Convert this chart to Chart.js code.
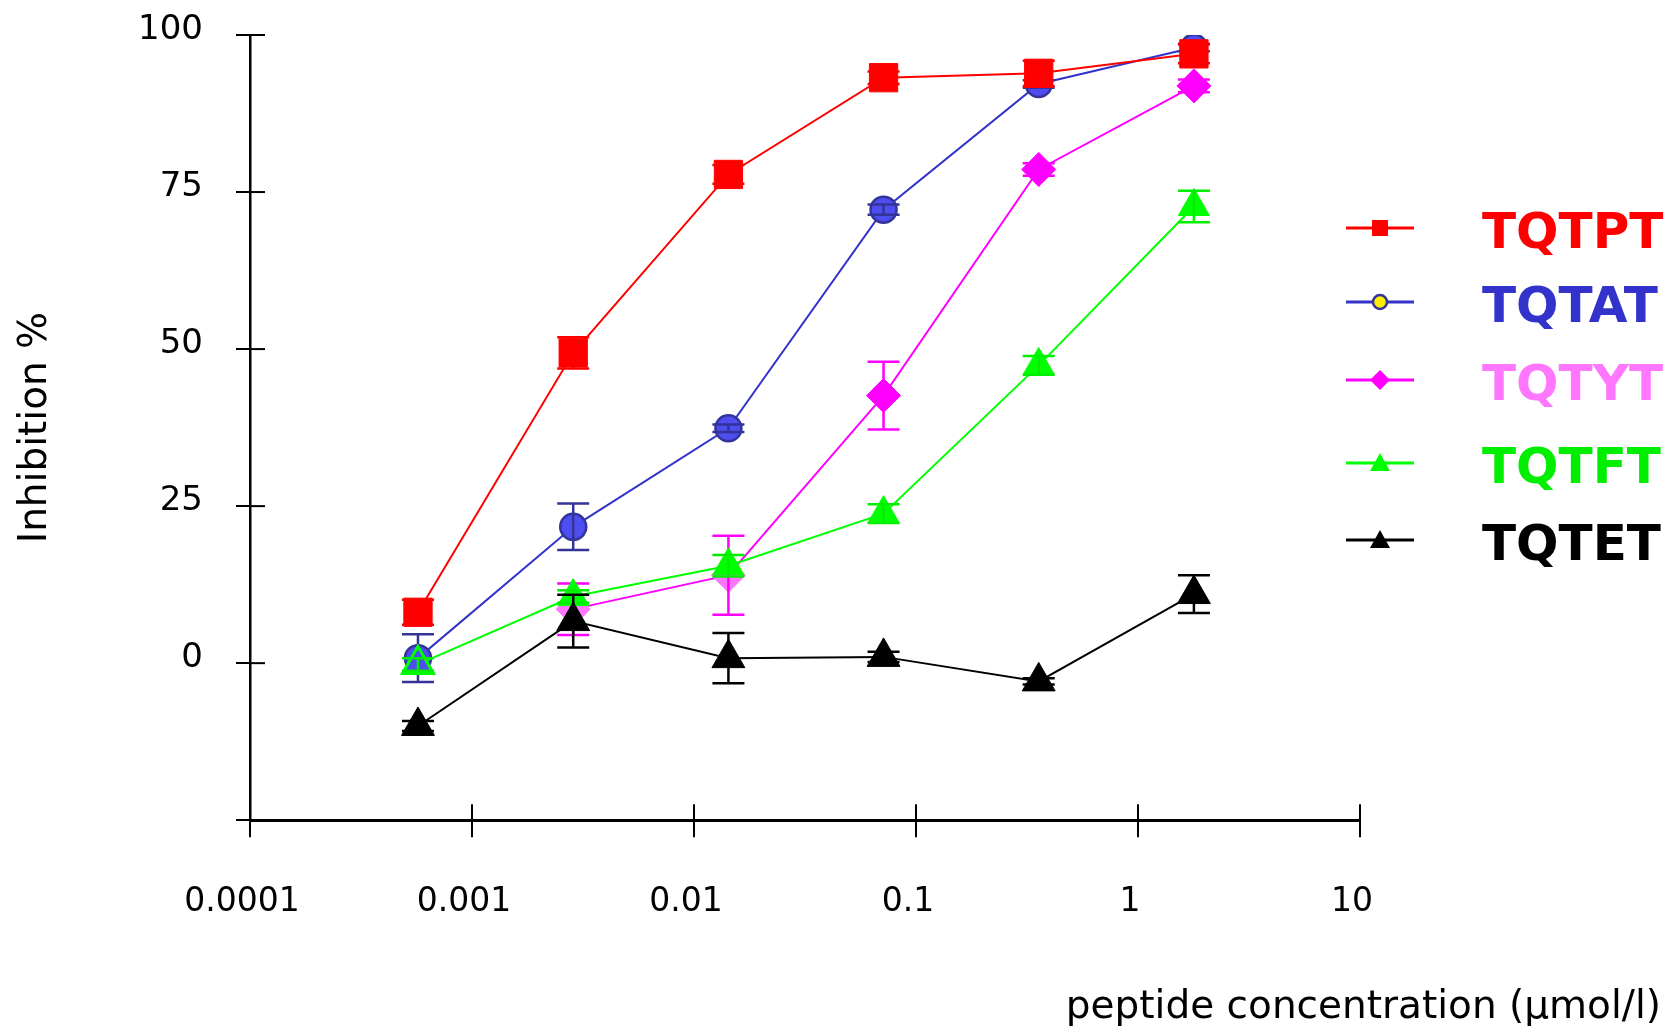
<!DOCTYPE html>
<html>
<head>
<meta charset="utf-8">
<script src="https://cdn.jsdelivr.net/npm/chart.js@4.4.1/dist/chart.umd.min.js"></script>
<style>
  body { margin: 0; background: #fff; }
  #wrap { position: relative; width: 1678px; height: 1035px; }
  #myChart { position: absolute; left: 0; top: 0; }
  .leg { position: absolute; left: 1346px; height: 60px; display: flex; align-items: center; transform: translateY(-50%); }
  .leg svg { width: 68px; height: 24px; }
  .leg span { position: absolute; left: 136px; top: 8px; font-family: "DejaVu Sans", sans-serif; font-weight: bold; font-size: 50px; line-height: 50px; white-space: nowrap; }
</style>
</head>
<body>
<div id="wrap">
  <canvas id="myChart" width="1678" height="1035"></canvas>
  <div id="legend"></div>
</div>
<script>
// peptide concentration (umol/l), 1:5 dilution series
var concentrations = [0.000571, 0.002857, 0.01429, 0.07143, 0.3571, 1.786];

var seriesNames = ['TQTPT', 'TQTAT', 'TQTYT', 'TQTFT', 'TQTET'];

// inhibition %
var tqtpt = [8.1, 49.4, 77.8, 93.2, 93.9, 97.0];
var tqtat = [0.8, 21.7, 37.4, 72.2, 92.2, 98.0];
var tqtyt = [null, 8.6, 14.0, 42.6, 78.6, 91.9];
var tqtft = [-0.2, 10.6, 15.5, 23.8, 47.4, 72.7];
var tqtet = [-10.0, 6.7, 0.8, 1.0, -2.9, 11.0];

// error bars (+/-)
var tqtptErr = [2.0, 2.5, 1.5, 1.0, 2.0, 1.5];
var tqtatErr = [3.8, 3.7, 0.6, 0.8, 0.6, 0.6];
var tqtytErr = [null, 4.1, 6.3, 5.4, 1.0, 1.0];
var tqtftErr = [1.0, 1.0, 1.7, 1.5, 1.5, 2.5];
var tqtetErr = [0.8, 4.2, 4.0, 0.8, 0.5, 3.0];

var xTickValues = [0.0001, 0.001, 0.01, 0.1, 1, 10];
var xTickLabels = ['0.0001', '0.001', '0.01', '0.1', '1', '10'];
var yTickValues = [-25, 0, 25, 50, 75, 100];

function pts(vals) {
    return concentrations.map(function (c, i) { return { x: c, y: vals[i] }; });
}

// error bars, drawn right after each dataset
var errorBars = {
    id: 'errorBars',
    afterDatasetDraw: function (chart, args) {
        var ds = chart.data.datasets[args.index];
        if (!ds.errors) return;
        var ys = chart.scales.y, ctx = chart.ctx;
        ctx.save();
        ctx.strokeStyle = ds.errorColor;
        ctx.lineWidth = 2.5;
        args.meta.data.forEach(function (p, i) {
            var v = ds.data[i].y, e = ds.errors[i];
            if (v === null || e === null) return;
            var top = ys.getPixelForValue(v + e), bot = ys.getPixelForValue(v - e);
            ctx.beginPath();
            ctx.moveTo(p.x, top); ctx.lineTo(p.x, bot);
            ctx.moveTo(p.x - 16, top); ctx.lineTo(p.x + 16, top);
            ctx.moveTo(p.x - 16, bot); ctx.lineTo(p.x + 16, bot);
            ctx.stroke();
        });
        ctx.restore();
    }
};

// ticks that cross the axis line
var innerTicks = {
    id: 'innerTicks',
    afterDraw: function (chart) {
        var ctx = chart.ctx, xs = chart.scales.x, ys = chart.scales.y;
        ctx.save();
        ctx.strokeStyle = '#000';
        ctx.lineWidth = 2;
        ys.ticks.forEach(function (t) {
            var py = ys.getPixelForValue(t.value);
            ctx.beginPath(); ctx.moveTo(xs.left, py); ctx.lineTo(xs.left + 15, py); ctx.stroke();
        });
        xs.ticks.forEach(function (t) {
            var px = xs.getPixelForValue(t.value);
            ctx.beginPath(); ctx.moveTo(px, ys.bottom); ctx.lineTo(px, ys.bottom - 16); ctx.stroke();
        });
        ctx.restore();
    }
};

var ctx = document.getElementById('myChart').getContext('2d');
var chart = new Chart(ctx, {
    type: 'line',
    data: {
        datasets: [{
            label: seriesNames[0],
            data: pts(tqtpt),
            errors: tqtptErr,
            errorColor: '#ff0000',
            borderColor: '#ff0000',
            backgroundColor: '#ff0000',
            pointStyle: 'rect',
            pointRadius: 20,
            pointBorderWidth: 1,
            order: 3
        }, {
            label: seriesNames[1],
            data: pts(tqtat),
            errors: tqtatErr,
            errorColor: '#333399',
            borderColor: '#3333cc',
            backgroundColor: '#4d4df0',
            pointBorderColor: '#333399',
            pointStyle: 'circle',
            pointRadius: 13,
            pointBorderWidth: 2.5,
            order: 4
        }, {
            label: seriesNames[2],
            data: pts(tqtyt),
            errors: tqtytErr,
            errorColor: '#ff00ff',
            borderColor: '#ff00ff',
            backgroundColor: function (c) { return c.dataIndex === 1 || c.dataIndex === 2 ? '#ff77ff' : '#ff00ff'; },
            pointBorderColor: function (c) { return c.dataIndex === 1 || c.dataIndex === 2 ? '#ff77ff' : '#ff00ff'; },
            pointStyle: 'rectRot',
            pointRadius: 17,
            pointBorderWidth: 1,
            order: 2
        }, {
            label: seriesNames[3],
            data: pts(tqtft),
            errors: tqtftErr,
            errorColor: '#00ee00',
            borderColor: '#00ff00',
            backgroundColor: function (c) { return c.dataIndex === 0 ? '#4d4df0' : '#00ff00'; },
            pointBorderColor: '#00ff00',
            pointStyle: 'triangle',
            pointRadius: 18,
            pointBorderWidth: function (c) { return c.dataIndex === 0 ? 3 : 1; },
            order: 1
        }, {
            label: seriesNames[4],
            data: pts(tqtet),
            errors: tqtetErr,
            errorColor: '#000000',
            borderColor: '#000000',
            backgroundColor: '#000000',
            pointStyle: 'triangle',
            pointRadius: 19,
            pointBorderWidth: 1,
            order: 0
        }]
    },
    options: {
        responsive: false,
        animation: false,
        elements: {
            line: { tension: 0, borderWidth: 2 }
        },
        layout: { padding: { top: 35, right: 17, left: 0, bottom: 0 } },
        plugins: {
            legend: { display: false },
            tooltip: { enabled: false },
            title: {
                display: true,
                position: 'bottom',
                align: 'end',
                text: 'peptide concentration (\u03bcmol/l)',
                color: '#000',
                font: { family: 'DejaVu Sans', size: 39, weight: 'normal' },
                padding: { top: 0, bottom: 4 }
            }
        },
        scales: {
            x: {
                type: 'logarithmic',
                min: 0.0001,
                max: 10,
                afterFit: function (s) { s.height = 164; },
                afterBuildTicks: function (s) {
                    s.ticks = xTickValues.map(function (v) { return { value: v }; });
                },
                ticks: {
                    color: '#000',
                    font: { family: 'DejaVu Sans', size: 33 },
                    padding: 45,
                    labelOffset: -8,
                    maxRotation: 0,
                    autoSkip: false,
                    callback: function (v) {
                        var i = xTickValues.indexOf(v);
                        return i >= 0 ? xTickLabels[i] : '';
                    }
                },
                grid: { drawOnChartArea: false, drawTicks: true, tickLength: 17, color: '#000', lineWidth: 2 },
                border: { color: '#000', width: 3 }
            },
            y: {
                min: -25,
                max: 100,
                afterFit: function (s) { s.width = 250; s.paddingTop = 0; s.paddingBottom = 0; },
                afterBuildTicks: function (s) {
                    s.ticks = yTickValues.map(function (v) { return { value: v }; });
                },
                ticks: {
                    color: '#000',
                    font: { family: 'DejaVu Sans', size: 34 },
                    padding: 33,
                    labelOffset: -5,
                    callback: function (v) { return v < 0 ? '' : v; }
                },
                title: {
                    display: true,
                    text: 'Inhibition %',
                    color: '#000',
                    font: { family: 'DejaVu Sans', size: 39 },
                    padding: { top: 12, bottom: 0 }
                },
                grid: { drawOnChartArea: false, drawTicks: true, tickLength: 14, color: '#000', lineWidth: 2 },
                border: { color: '#000', width: 2.5 }
            },
            // empty right-hand axis that reserves room for the legend
            space: {
                position: 'right',
                display: true,
                afterFit: function (s) { s.width = 301; s.paddingTop = 0; s.paddingBottom = 0; },
                ticks: { display: false },
                grid: { display: false },
                border: { display: false }
            }
        }
    },
    plugins: [errorBars, innerTicks]
});

// legend: line sample with marker, then coloured name
var legendLineColors = ['#ff0000', '#3333cc', '#ff00ff', '#00ff00', '#000000'];
var legendTextColors = ['#ff0000', '#3333cc', '#ff77ff', '#00ee00', '#000000'];
var legendRowY = [228, 302, 380, 463, 540];
var legendMarkers = [
    '<rect x="26" y="4" width="16" height="16" fill="#ff0000"/>',
    '<circle cx="34" cy="12" r="7" fill="#ffee00" stroke="#333399" stroke-width="2.5"/>',
    '<polygon points="34,2 44,12 34,22 24,12" fill="#ff00ff"/>',
    '<polygon points="34,2 44,20 24,20" fill="#00ff00"/>',
    '<polygon points="34,2 44,20 24,20" fill="#000000"/>'
];
var legendHtml = '';
seriesNames.forEach(function (name, i) {
    legendHtml += '<div class="leg" style="top:' + legendRowY[i] + 'px">' +
        '<svg viewBox="0 0 68 24"><line x1="0" y1="12" x2="68" y2="12" stroke="' + legendLineColors[i] + '" stroke-width="3"/>' +
        legendMarkers[i] + '</svg>' +
        '<span style="color:' + legendTextColors[i] + '">' + name + '</span></div>';
});
document.getElementById('legend').innerHTML = legendHtml;
</script>
</body>
</html>
